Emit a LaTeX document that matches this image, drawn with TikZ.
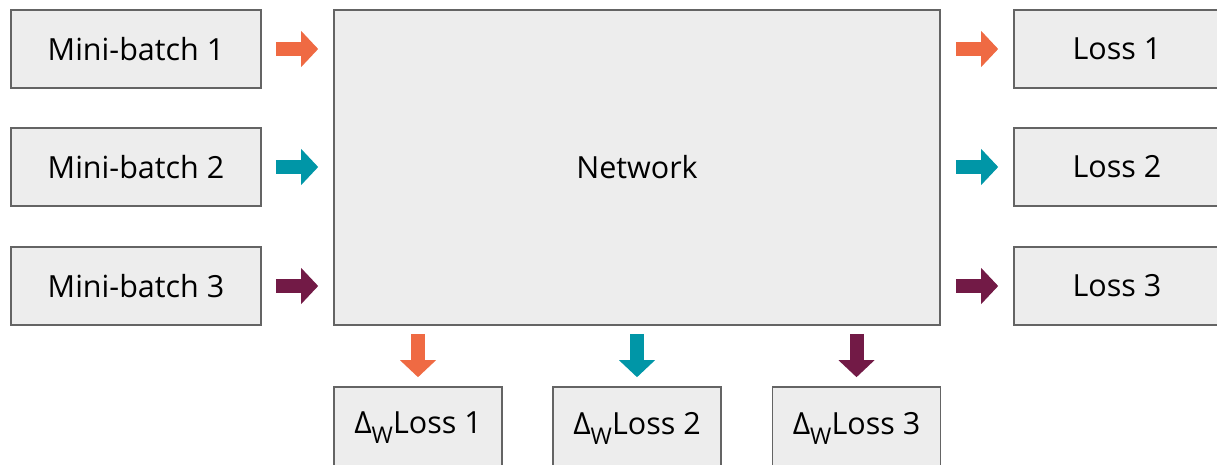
\documentclass[tikz,border=0pt]{standalone}
\usepackage{fontspec}
\setmainfont{Open Sans}
\usetikzlibrary{arrows.meta}
\definecolor{boxfill}{RGB}{237,237,237}
\definecolor{boxline}{RGB}{100,100,100}
\definecolor{c1}{RGB}{239,106,67}
\definecolor{c2}{RGB}{0,150,167}
\definecolor{c3}{RGB}{114,26,70}
\newcommand{\gradW}{Δ\raisebox{-10pt}{\fontsize{23}{23}\selectfont W}}
\tikzset{
  blk/.style={draw=boxline, fill=boxfill, line width=1.6pt, inner sep=0pt,
    font=\fontsize{30.5}{36}\selectfont, text=black},
  fat/.style={draw=#1, line width=14pt,
    -{Triangle[width=35pt,length=17pt]}},
}
\begin{document}
\begin{tikzpicture}[x=1pt,y=-1pt]
\useasboundingbox (0,0) rectangle (1217,465);
% inputs
\node[blk, minimum width=250pt, minimum height=78pt] (mb1) at (136,49) {Mini-batch 1};
\node[blk, minimum width=250pt, minimum height=78pt] (mb2) at (136,167) {Mini-batch 2};
\node[blk, minimum width=250pt, minimum height=78pt] (mb3) at (136,286) {Mini-batch 3};
% network
\node[blk, minimum width=606pt, minimum height=315pt] (net) at (637,167.5) {Network};
% losses
\node[blk, minimum width=206pt, minimum height=78pt] (l1) at (1117,49) {Loss 1};
\node[blk, minimum width=206pt, minimum height=78pt] (l2) at (1117,167) {Loss 2};
\node[blk, minimum width=206pt, minimum height=78pt] (l3) at (1117,286) {Loss 3};
% gradients
\node[blk, minimum width=168pt, minimum height=82pt] (g1) at (418,428) {\gradW Loss 1};
\node[blk, minimum width=168pt, minimum height=82pt] (g2) at (637,428) {\gradW Loss 2};
\node[blk, minimum width=168pt, minimum height=82pt] (g3) at (856.5,428) {\gradW Loss 3};
% input arrows
\draw[fat=c1] ([xshift=14pt]mb1.east) -- ([xshift=-15pt]net.west |- mb1.east);
\draw[fat=c2] ([xshift=14pt]mb2.east) -- ([xshift=-15pt]net.west |- mb2.east);
\draw[fat=c3] ([xshift=14pt]mb3.east) -- ([xshift=-15pt]net.west |- mb3.east);
% output arrows
\draw[fat=c1] ([xshift=15pt]net.east |- l1.west) -- ([xshift=-15pt]l1.west);
\draw[fat=c2] ([xshift=15pt]net.east |- l2.west) -- ([xshift=-15pt]l2.west);
\draw[fat=c3] ([xshift=15pt]net.east |- l3.west) -- ([xshift=-15pt]l3.west);
% gradient arrows
\draw[fat=c1] ([yshift=-8pt]net.south -| g1.north) -- ([yshift=9pt]g1.north);
\draw[fat=c2] ([yshift=-8pt]net.south -| g2.north) -- ([yshift=9pt]g2.north);
\draw[fat=c3] ([yshift=-8pt]net.south -| g3.north) -- ([yshift=9pt]g3.north);
\end{tikzpicture}
\end{document}
